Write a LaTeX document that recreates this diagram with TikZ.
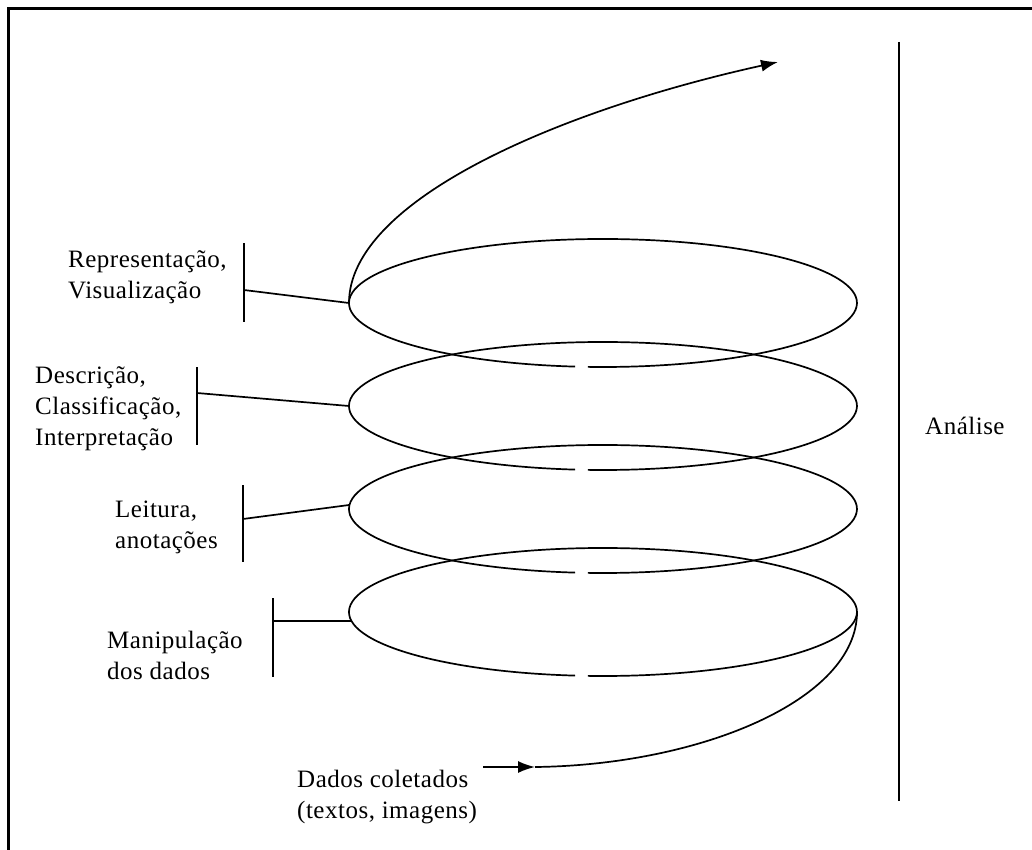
\documentclass[tikz,border=0pt]{standalone}
\usepackage{fontspec}
\setmainfont{Liberation Serif}[LetterSpace=2]
\usetikzlibrary{arrows.meta}
\begin{document}
\begin{tikzpicture}[x=1pt, y=-1pt, font=\fontsize{25}{31}\selectfont,
    ring/.style={line width=1.7pt},
    tickbar/.style={line width=2pt},
    lbl/.style={anchor=north west, align=left, inner sep=0pt},
    tipend/.style={-{Latex[length=17pt, width=12pt]}}]
    \useasboundingbox (0,0) rectangle (1032,850);

    % Rahmen
    \draw[line width=3pt] (8.5,850) -- (8.5,9) -- (1032,9);

    % Windungen (unten offen)
    \foreach \cy in {303,406,509,612} {
        \draw[ring] (575.1,\cy+63.6) arc[start angle=96.3, end angle=453.4, x radius=254, y radius=64];
    }
    \coordinate (e1) at (349,303);
    \coordinate (e2) at (349,406);
    \coordinate (e3) at (349,505);
    \coordinate (e4) at (351,621);
    \coordinate (e4r) at (857,612);

    % Stufen
    \node[lbl] (repr) at (68,250) {Representação,\\Visualização};
    \node[lbl] (desc) at (35,366) {Descrição,\\Classificação,\\Interpretação};
    \node[lbl] (leit) at (115,501) {Leitura,\\anotações};
    \node[lbl] (manip) at (107,631) {Manipulação\\dos dados};

    \draw[tickbar] (244,243) -- (244,322);
    \draw[tickbar] (197,367) -- (197,445);
    \draw[tickbar] (243,485) -- (243,562);
    \draw[tickbar] (273,598) -- (273,677);
    \coordinate (b1) at (244,290);
    \coordinate (b2) at (197,393);
    \coordinate (b3) at (243,519);
    \coordinate (b4) at (273,621);
    \foreach \n in {1,...,4} {
        \draw[ring] (b\n) -- (e\n);
    }

    % Ein- und Ausgang der Spirale
    \node[lbl] (dados) at (297,770) {Dados coletados\\(textos, imagens)};
    \coordinate (start) at (483,767);
    \coordinate (entry) at (535,767);
    \coordinate (tip) at (778,62);
    \draw[ring, tipend] (start) -- (entry);
    \draw[ring] (e4r) .. controls (857,700) and (700,765) .. (entry);
    \draw[ring, tipend] (e1) .. controls (349,200) and (560,110) .. (tip);

    % Analyse
    \draw[line width=2pt] (899,42) -- (899,801);
    \node[anchor=west, inner sep=0pt] (anal) at (925,426) {Análise};
\end{tikzpicture}
\end{document}
